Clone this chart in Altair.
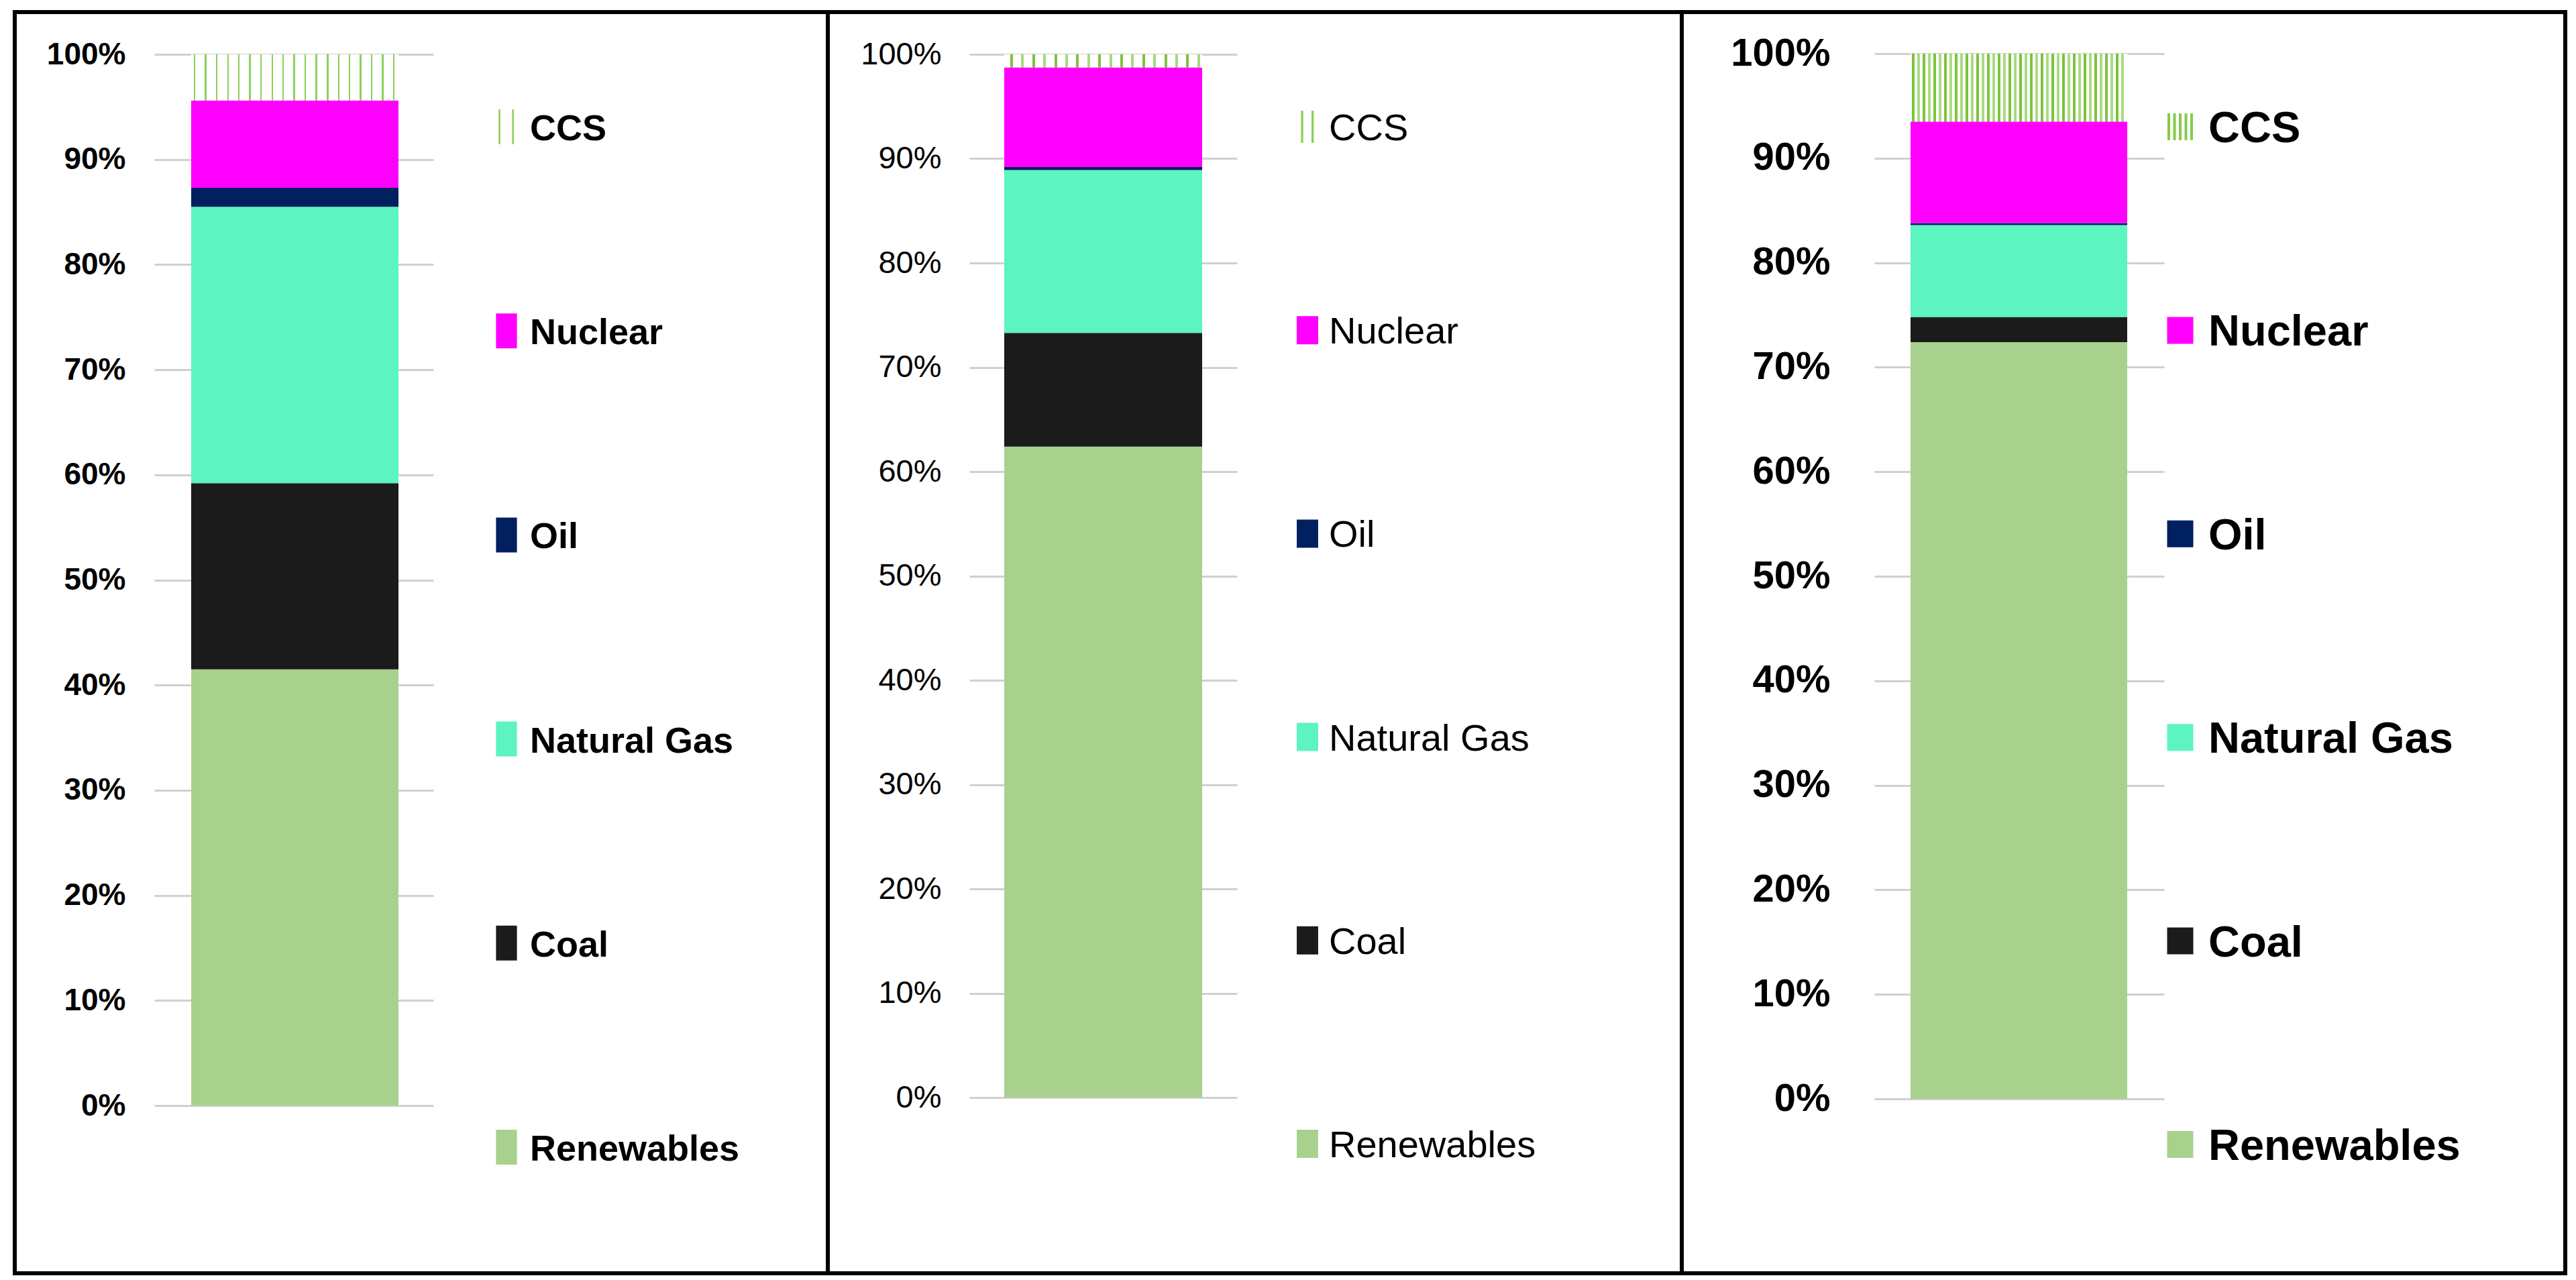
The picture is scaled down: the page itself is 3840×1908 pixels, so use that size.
import altair as alt
import pandas as pd

# ---------------- data ----------------
sources = ["Renewables", "Coal", "Natural Gas", "Oil", "Nuclear", "CCS"]
legend_order = ["CCS", "Nuclear", "Oil", "Natural Gas", "Coal", "Renewables"]
source_colors = ["#A9D18E", "#1B1B1B", "#5CF4C0", "#002060", "#FF00FF", "#92D050"]
tick_values = [0, 10, 20, 30, 40, 50, 60, 70, 80, 90, 100]

panel1_values = [41.5, 17.7, 26.3, 1.8, 8.3, 4.4]
panel2_values = [62.4, 10.9, 15.6, 0.3, 9.55, 1.25]
panel3_values = [72.4, 2.4, 8.8, 0.2, 9.7, 6.5]

FONT = "Liberation Sans, Arial, sans-serif"
VIEW_H = 1880


def stripe_gradient(bar_w, first, period, width, n, cols):
    stops = [alt.GradientStop(color="white", offset=0)]
    for i in range(n):
        a = (first + i * period) / bar_w
        b = min((first + i * period + width) / bar_w, 1.0)
        c = cols[i % len(cols)]
        stops += [
            alt.GradientStop(color="white", offset=a),
            alt.GradientStop(color=c, offset=a),
            alt.GradientStop(color=c, offset=b),
            alt.GradientStop(color="white", offset=b),
        ]
    stops.append(alt.GradientStop(color="white", offset=1))
    return alt.LinearGradient(gradient="linear", stops=stops, x1=0, x2=1, y1=0, y2=0)


def rect_path(hw):
    return f"M{-hw},-1H{hw}V1H{-hw}Z"


def lines_path(xs, w):
    return " ".join(f"M{x},-1H{x + w}V1H{x}Z" for x in xs)


def make_panel(name, values, cfg):
    df = pd.DataFrame({"panel": name, "source": sources, "value": values,
                       "order": list(range(len(sources)))})
    color_scale = alt.Scale(domain=sources, range=source_colors)
    yscale = alt.Scale(domain=[0, 100], range=cfg["y_range"], nice=False, zero=False)
    xscale = alt.Scale(range=cfg["bar_range"], paddingInner=0, paddingOuter=0)
    yaxis = alt.Axis(
        values=tick_values, labelExpr="datum.value + '%'",
        offset=-cfg["axis_x"], tickSize=cfg["tick_size"], tickColor="#D0D0D0",
        tickWidth=3, domain=False, grid=False, labelPadding=cfg["label_pad"],
        labelFontSize=cfg["label_fs"], labelFont=FONT,
        labelFontWeight=cfg["label_fw"], labelColor="black", title=None,
        labelOverlap=False)

    base = alt.Chart(df).transform_stack(
        stack="value", as_=["y0", "y1"], groupby=["panel"],
        sort=[alt.SortField("order", order="ascending")])

    bars = base.transform_filter("datum.source != 'CCS'").mark_bar().encode(
        x=alt.X("panel:N", axis=None, scale=xscale),
        y=alt.Y("y0:Q", scale=yscale, axis=yaxis),
        y2="y1:Q",
        color=alt.Color("source:N", scale=color_scale, legend=None),
    )
    ccs = base.transform_filter("datum.source == 'CCS'").mark_bar(
        color=cfg["ccs_fill"]).encode(
        x=alt.X("panel:N", axis=None, scale=xscale),
        y=alt.Y("y0:Q", scale=yscale, axis=yaxis),
        y2="y1:Q",
    )
    bar_layer = alt.layer(bars, ccs)

    ldf = pd.DataFrame({"source": legend_order})
    ly = alt.Y("source:N", axis=None,
               scale=alt.Scale(type="point", domain=legend_order,
                               range=cfg["legend_range"], padding=0))
    lbase = alt.Chart(ldf)
    sym = lbase.transform_filter("datum.source != 'CCS'").mark_point(
        shape=rect_path(cfg["sym_hw"]), size=(2 * cfg["sym_r"]) ** 2,
        filled=True, opacity=1, strokeWidth=0).encode(
        x=alt.value(cfg["sym_x"]), y=ly,
        color=alt.Color("source:N", scale=color_scale, legend=None))
    ccs_sym = lbase.transform_filter("datum.source == 'CCS'").mark_point(
        shape=cfg["ccs_path"], size=(2 * cfg["ccs_r"]) ** 2, filled=True,
        opacity=1, strokeWidth=0, color=cfg["ccs_sym_color"]).encode(
        x=alt.value(cfg["sym_x"]), y=ly)
    txt = lbase.mark_text(
        align="left", baseline="alphabetic", dy=cfg["text_dy"], font=FONT,
        fontSize=cfg["legend_fs"], fontWeight=cfg["legend_fw"], color="black").encode(
        x=alt.value(cfg["text_x"]), y=ly, text="source:N")
    legend_layer = alt.layer(sym, ccs_sym, txt)

    return alt.layer(bar_layer, legend_layer).resolve_scale(y="independent").properties(
        width=cfg["width"], height=VIEW_H)


cfg1 = dict(width=1212, y_range=[1630, 63], bar_range=[263, 572], axis_x=624,
            tick_size=416, label_pad=43, label_fs=46, label_fw="bold",
            ccs_fill=stripe_gradient(309, 4, 16.5, 2.5, 19, ["#8ED05A"]),
            legend_range=[171, 1692], sym_x=733, sym_hw=0.6, sym_r=26,
            ccs_path=lines_path([-0.45, 0.32], 0.1), ccs_r=26, ccs_sym_color="#8ED05A",
            text_x=768, text_dy=20, legend_fs=54, legend_fw="bold")
cfg2 = dict(width=1273, y_range=[1618, 63], bar_range=[263, 558], axis_x=610,
            tick_size=399, label_pad=42, label_fs=47, label_fw="normal",
            ccs_fill=stripe_gradient(295, 9, 16.4, 4, 18, ["#7CC43C", "#A6D97F"]),
            legend_range=[171, 1687], sym_x=715, sym_hw=0.76, sym_r=21,
            ccs_path=lines_path([-0.4, 0.25], 0.14), ccs_r=24, ccs_sym_color="#8ED05A",
            text_x=747, text_dy=20, legend_fs=56, legend_fw="normal")
cfg3 = dict(width=1317, y_range=[1620, 62], bar_range=[341, 664], axis_x=719,
            tick_size=432, label_pad=66, label_fs=58, label_fw="bold",
            ccs_fill=stripe_gradient(323, 2, 8, 4, 40, ["#7CC43C", "#A9DB84"]),
            legend_range=[171, 1688], sym_x=743, sym_hw=0.975, sym_r=20,
            ccs_path=lines_path([-0.95, -0.525, -0.1, 0.325, 0.75], 0.2), ccs_r=20,
            ccs_sym_color="#86CB4A", text_x=785, text_dy=23, legend_fs=65, legend_fw="bold")

p1 = make_panel("A", panel1_values, cfg1)
p2 = make_panel("B", panel2_values, cfg2)
p3 = make_panel("C", panel3_values, cfg3)

chart = alt.hconcat(p1, p2, p3, spacing=0, bounds="flush").properties(
    padding={"left": 11, "top": 7, "right": 4, "bottom": 4},
    background="white",
).configure_view(stroke="black", strokeWidth=6)

chart.save("out.html", embed_options={"renderer": "svg", "actions": False})
